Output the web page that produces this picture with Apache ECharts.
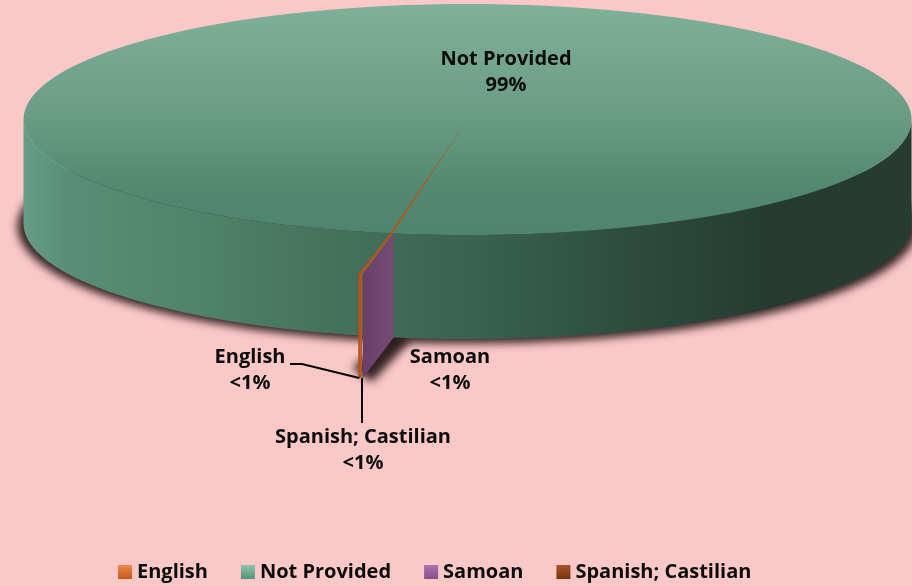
<!DOCTYPE html>
<html>
<head>
<meta charset="utf-8">
<style>
  html, body { margin: 0; padding: 0; background: #fbc8c8; }
  #chart { width: 912px; height: 586px; }
</style>
<script src="https://cdn.jsdelivr.net/npm/echarts@6/dist/echarts.min.js"></script>
</head>
<body>
<div id="chart"></div>
<script>
// chart data
const categories = ["English", "Not Provided", "Samoan", "Spanish; Castilian"];
const shares = [0.05, 99.88, 0.02, 0.05];
const shareLabels = ["<1%", "99%", "<1%", "<1%"];

// layout of the tilted disc
const cx = 467.5, cy = 119.5, rx = 444, ry = 115.5, depth = 104;
const startAngle = 190.24;  // clockwise from the back of the disc
const pullOut = 1.36;       // the small slices stick out past the rim
const rimLean = 0.4;        // perspective bend where a slice crosses the rim
const FONT_FAMILY = '"Open Sans", "Lato", sans-serif';
const FONT = 'bold 20px ' + FONT_FAMILY;

function linear(x2, y2, stops) {
  return {
    type: "linear", x: 0, y: 0, x2: x2, y2: y2,
    colorStops: stops.map(function (s) { return { offset: s[0], color: s[1] }; })
  };
}

const wallFill = linear(1, 0, [
  [0, "#669d86"], [0.05, "#588e77"], [0.2, "#4f836b"], [0.32, "#47745f"],
  [0.5, "#3a6351"], [0.7, "#2c4a3d"], [0.85, "#253a30"], [1, "#263c32"]
]);
const topFill = linear(0, 1, [[0, "#7fb09a"], [0.45, "#6c9e87"], [0.8, "#528870"], [1, "#4f856e"]]);

const legendFills = [
  linear(0, 1, [[0, "#ee8a48"], [1, "#c4581a"]]),
  linear(0, 1, [[0, "#8fc4aa"], [1, "#54917a"]]),
  linear(0, 1, [[0, "#ad72ad"], [1, "#83508a"]]),
  linear(0, 1, [[0, "#a8532c"], [1, "#7a3312"]])
];

// start and end angle of each slice
const total = shares.reduce(function (a, b) { return a + b; }, 0);
const spans = [];
(function () {
  let a = startAngle;
  shares.forEach(function (v) {
    const b = a + v / total * 360;
    spans.push([a, b]);
    a = b;
  });
})();

function onDisc(angle, r, drop) {
  const t = angle * Math.PI / 180;
  return [cx + r * rx * Math.sin(t), cy - r * ry * Math.cos(t) + (drop || 0)];
}

function ellipsePts(offsetX, offsetY, grow) {
  const pts = [];
  for (let a = 0; a < 360; a += 2) {
    const p = onDisc(a, grow, 0);
    pts.push([p[0] + offsetX, p[1] + offsetY]);
  }
  return pts;
}

function wallPts() {
  const pts = [];
  for (let a = 270; a >= 90; a -= 2) pts.push(onDisc(a, 1, 0));
  for (let a = 90; a <= 270; a += 2) pts.push(onDisc(a, 1, depth));
  return pts;
}

function sliver(i, color) {
  const s = spans[i];
  return [
    {
      type: "polygon",
      shape: {
        points: [
          [cx, cy], onDisc(s[0] - rimLean, 1), onDisc(s[0], pullOut),
          onDisc(s[1], pullOut), onDisc(s[1] - rimLean, 1)
        ]
      },
      style: { fill: color }
    },
    {
      type: "polygon",
      shape: {
        points: [
          onDisc(s[0], pullOut), onDisc(s[1], pullOut),
          onDisc(s[1], pullOut, depth), onDisc(s[0], pullOut, depth)
        ]
      },
      style: { fill: color }
    }
  ];
}

function label(i, x, y) {
  return {
    type: "text",
    style: {
      text: categories[i] + "\n" + shareLabels[i],
      x: x, y: y,
      font: FONT, lineHeight: 26, fill: "#0c0c0c",
      textAlign: "center", textVerticalAlign: "middle"
    }
  };
}

// soft shadow only: the shape sits off the canvas and throws its shadow back
function shadowOf(points, blur, color) {
  const far = 2000;
  return {
    type: "polygon",
    shape: { points: points.map(function (p) { return [p[0] - far, p[1]]; }) },
    style: { fill: "#000", shadowColor: color, shadowBlur: blur, shadowOffsetX: far }
  };
}

const painters = [
  // English
  function () {
    const tip = onDisc(spans[0][1], pullOut, depth);
    return sliver(0, "#b0521a").concat([
      {
        type: "polyline",
        shape: { points: [[290, 364], [302, 364], [tip[0] + 1, tip[1]]] },
        style: { stroke: "#000", lineWidth: 2, fill: null }
      },
      label(0, 250, 370)
    ]);
  },
  // Not Provided: shadow, wall, top
  function () {
    const a = spans[2][0];
    const tipLow = onDisc(a, pullOut, depth);
    const rimLow = onDisc(a - rimLean, 1, depth);
    return [
      shadowOf(ellipsePts(0, depth + 3, 1.014), 9, "rgba(45,30,30,0.95)"),
      shadowOf([
        [tipLow[0] - 10, tipLow[1] - 10],
        [tipLow[0] + 9, tipLow[1] + 4],
        [rimLow[0] + 17, rimLow[1] + 3],
        [rimLow[0], rimLow[1] - 10]
      ], 9, "rgba(40,25,25,0.95)"),
      { type: "polygon", shape: { points: wallPts() }, style: { fill: wallFill } },
      { type: "polygon", shape: { points: ellipsePts(0, 0, 1) }, style: { fill: topFill } },
      label(1, 506, 72)
    ];
  },
  // Samoan: the cut face
  function () {
    const a = spans[2][0];
    return [
      {
        type: "polygon",
        shape: {
          points: [
            onDisc(a - rimLean, 1), onDisc(a, pullOut),
            onDisc(a, pullOut, depth), onDisc(a - rimLean, 1, depth)
          ]
        },
        style: { fill: linear(1, 0, [[0, "#693f69"], [1, "#744c76"]]) }
      },
      label(2, 450, 370)
    ];
  },
  // Spanish; Castilian
  function () {
    const tip = onDisc(spans[3][0], pullOut, depth);
    return sliver(3, "#b85a20").concat([
      {
        type: "line",
        shape: { x1: tip[0], y1: tip[1], x2: tip[0], y2: 423 },
        style: { stroke: "#000", lineWidth: 2 }
      },
      label(3, 363, 450)
    ]);
  }
];

const zOrder = [4, 1, 2, 3];

const chart = echarts.init(document.getElementById("chart"), null, { renderer: "canvas" });

chart.setOption({
  backgroundColor: "#fbc8c8",
  animation: false,
  tooltip: { show: false },
  legend: {
    top: 562,
    left: 118,
    icon: "rect",
    padding: 0,
    itemWidth: 14,
    itemHeight: 14,
    itemGap: 33,
    selectedMode: false,
    textStyle: { color: "#0c0c0c", fontFamily: FONT_FAMILY, fontWeight: "bold", fontSize: 20 },
    data: categories.map(function (name, i) {
      return { name: name, itemStyle: { color: legendFills[i] } };
    })
  },
  series: categories.map(function (name, i) {
    return {
      type: "custom",
      name: name,
      coordinateSystem: "none",
      z: zOrder[i],
      silent: true,
      itemStyle: { color: legendFills[i] },
      data: [shares[i]],
      renderItem: function () {
        return { type: "group", children: painters[i]() };
      }
    };
  })
});
</script>
</body>
</html>
